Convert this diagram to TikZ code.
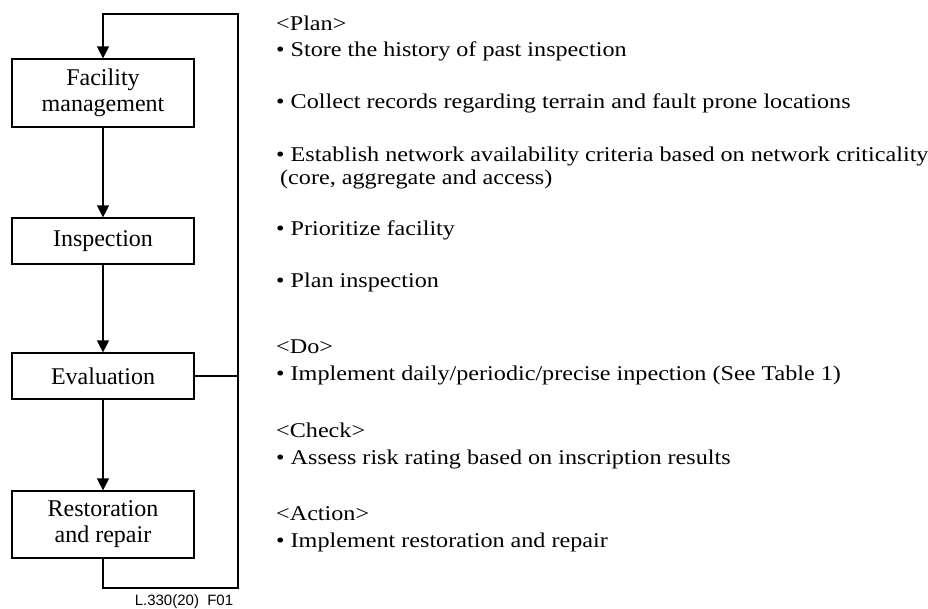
\documentclass[tikz,border=0pt]{standalone}
\usepackage{fontspec}
\setmainfont{Liberation Serif}
\newfontfamily\labelfont{Liberation Sans}
\usetikzlibrary{arrows.meta}
\newcommand\hsqz[1]{\scalebox{1.15}[1]{#1}}
\begin{document}
\begin{tikzpicture}[x=1pt,y=-1pt,
  box/.style={draw, line width=1.2pt, minimum width=182pt, inner sep=0pt, align=center, font=\fontsize{24}{26}\selectfont},
  flow/.style={line width=1.2pt, -{Triangle[width=12pt,length=12pt]}},
  wire/.style={line width=1.2pt},
  txt/.style={anchor=base west, inner sep=0pt, font=\fontsize{21}{25}\selectfont},
  lbl/.style={anchor=base, inner sep=0pt, font=\labelfont\fontsize{15}{17}\selectfont}]
\useasboundingbox (0,0) rectangle (928,608);
% flow boxes
\node[box, minimum height=68pt] (fm) at (103,93) {Facility\\management};
\node[box, minimum height=46pt] (in) at (103,241) {Inspection};
\node[box, minimum height=46pt] (ev) at (103,376) {Evaluation};
\node[box, minimum height=67pt] (rr) at (103,524.5) {Restoration\\and repair};
% loop corners
\coordinate (tl) at (103,14);
\coordinate (tr) at (238,14);
\coordinate (br) at (238,588);
\coordinate (bl) at (103,588);
% connectors
\draw[flow] (fm) -- (in);
\draw[flow] (in) -- (ev);
\draw[flow] (ev) -- (rr);
\draw[flow] (rr.south) -- (bl) -- (br) -- (tr) -- (tl) -- (fm.north);
\draw[wire] (ev.east) -- (ev.east -| tr);
% figure label
\node[lbl] (fig) at (184,605) {L.330(20)\ \ F01};
% right-hand text
\node[txt] (t1) at (276,30) {\hsqz{<Plan>}};
\node[txt] (t2) at (276,56) {\hsqz{\textbullet\ Store the history of past inspection}};
\node[txt] (t3) at (276,108) {\hsqz{\textbullet\ Collect records regarding terrain and fault prone locations}};
\node[txt] (t4) at (276,161) {\hsqz{\textbullet\ Establish network availability criteria based on network criticality}};
\node[txt] (t5) at (280,184) {\hsqz{(core, aggregate and access)}};
\node[txt] (t6) at (276,235) {\hsqz{\textbullet\ Prioritize facility}};
\node[txt] (t7) at (276,287) {\hsqz{\textbullet\ Plan inspection}};
\node[txt] (t8) at (276,353) {\hsqz{<Do>}};
\node[txt] (t9) at (276,380) {\hsqz{\textbullet\ Implement daily/periodic/precise inpection (See Table 1)}};
\node[txt] (t10) at (276,437) {\hsqz{<Check>}};
\node[txt] (t11) at (276,464) {\hsqz{\textbullet\ Assess risk rating based on inscription results}};
\node[txt] (t12) at (276,520) {\hsqz{<Action>}};
\node[txt] (t13) at (276,547) {\hsqz{\textbullet\ Implement restoration and repair}};
\end{tikzpicture}
\end{document}
